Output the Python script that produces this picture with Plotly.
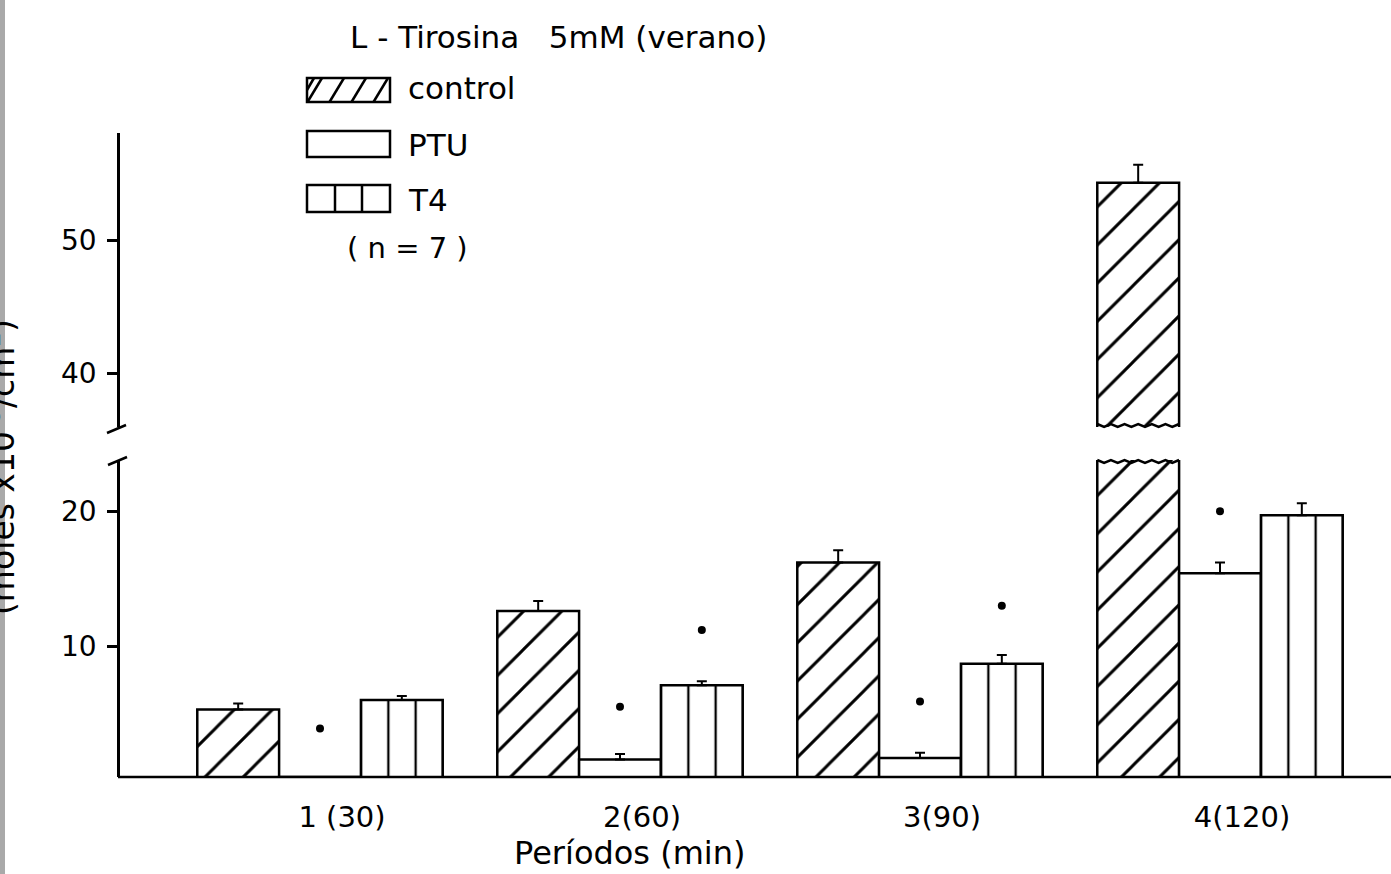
import plotly.graph_objects as go

# ---------------- data ----------------
periods = ["1 (30)", "2(60)", "3(90)", "4(120)"]
control = [5.3, 12.6, 16.2, 54.3]
control_err = [0.45, 0.75, 0.9, 1.35]
ptu = [0.3, 1.6, 1.7, 15.4]
ptu_err = [0.0, 0.4, 0.4, 0.8]
t4 = [6.0, 7.1, 8.7, 19.7]
t4_err = [0.3, 0.3, 0.65, 0.9]
ptu_sig = [3.9, 5.5, 5.9, 20.0]      # significance dots above PTU bars
t4_sig = [None, 11.2, 13.0, 23.9]    # significance dots above T4 bars
y_ticks_low = [10, 20]
y_ticks_high = [40, 50]

# ---------------- layout constants ----------------
W, H = 1391, 874
ML, MR, MT, MB = 102, 0, 133, 97
PW, PH = W - ML - MR, H - MT - MB
FONT = "DejaVu Sans"
BW = 3 / 11
OFFS = [-1.5 * BW, -0.5 * BW, 0.5 * BW]
XR = [-(320 - ML) / 300, -(320 - ML) / 300 + PW / 300]
AXPOS = (118 - ML) / PW
LOW_DOM = [0, (777 - 460) / PH]
HIGH_DOM = [(777 - 427) / PH, 1]
LOW_RANGE = [0.3, 0.3 + 317 / 13.49]
HIGH_RANGE = [40 - 54 / 13.3, 50 + 107 / 13.3]


def fx(px):
    return (px - ML) / PW


def fy(py):
    return (MT + PH - py) / PH


xs = list(range(len(periods)))
line = dict(color="black", width=2.5)
err_style = dict(type="data", symmetric=False, thickness=2, width=5, color="black")

hatch = dict(shape="/", size=27, solidity=0.11, fgcolor="black", fgopacity=1,
             bgcolor="white", fillmode="replace")
vlines = dict(shape="|", size=300 / 11, solidity=0.085, fgcolor="black", fgopacity=1,
              bgcolor="white", fillmode="replace")

fig = go.Figure()

fig.add_trace(go.Bar(
    x=xs, y=control, width=BW, offset=OFFS[0], name="control",
    marker=dict(color="white", line=line, pattern=hatch),
    error_y=dict(array=control_err, arrayminus=[0] * 4, **err_style),
    xaxis="x", yaxis="y"))
fig.add_trace(go.Bar(
    x=xs, y=ptu, width=BW, offset=OFFS[1], name="PTU",
    marker=dict(color="white", line=line),
    error_y=dict(array=ptu_err, arrayminus=[0] * 4, **err_style),
    xaxis="x", yaxis="y"))
fig.add_trace(go.Bar(
    x=xs, y=t4, width=BW, offset=OFFS[2], name="T4",
    marker=dict(color="white", line=line, pattern=vlines),
    error_y=dict(array=t4_err, arrayminus=[0] * 4, **err_style),
    xaxis="x", yaxis="y"))
# upper (broken) segment for control
fig.add_trace(go.Bar(
    x=xs, y=control, width=BW, offset=OFFS[0], name="control", showlegend=False,
    marker=dict(color="white", line=line, pattern=hatch),
    error_y=dict(array=control_err, arrayminus=[0] * 4, **err_style),
    xaxis="x", yaxis="y2"))

fig.add_trace(go.Scatter(
    x=[x + OFFS[1] + BW / 2 for x in xs], y=ptu_sig, mode="markers",
    marker=dict(color="black", size=8), cliponaxis=False, showlegend=False,
    xaxis="x", yaxis="y"))
fig.add_trace(go.Scatter(
    x=[x + OFFS[2] + BW / 2 for x in xs], y=t4_sig, mode="markers",
    marker=dict(color="black", size=8), cliponaxis=False, showlegend=False,
    xaxis="x", yaxis="y"))

shapes = []
# baseline
shapes.append(dict(type="line", xref="paper", yref="y domain", x0=AXPOS, x1=1, y0=0, y1=0,
                   line=dict(color="black", width=2.5)))
# axis break marks
shapes.append(dict(type="line", xref="paper", yref="y domain", xsizemode="pixel", ysizemode="pixel",
                   xanchor=AXPOS, yanchor=1, x0=-10, x1=9, y0=-5, y1=3,
                   line=dict(color="black", width=2.5)))
shapes.append(dict(type="line", xref="paper", yref="y2 domain", xsizemode="pixel", ysizemode="pixel",
                   xanchor=AXPOS, yanchor=0, x0=-11, x1=8, y0=-6, y1=2,
                   line=dict(color="black", width=2.5)))

# wavy break edges on the broken control bar
bi = control.index(max(control))
bx0 = bi + OFFS[0]
bx1 = bx0 + BW
n = 12
for yref, ybase, amp in (("y domain", 1.0, 3 / 317), ("y2 domain", 0.0, 3 / 294)):
    pts = []
    for k in range(n + 1):
        xx = bx0 + (bx1 - bx0) * k / n
        yy = ybase - (amp if k % 2 else 0) + (0 if yref == "y domain" else amp)
        pts.append(f"{xx},{yy}")
    shapes.append(dict(type="path", xref="x", yref=yref, path="M" + " L".join(pts),
                       line=dict(color="black", width=2.5)))


# custom legend glyphs
def rect(x0, y0, x1, y1):
    return dict(type="rect", xref="paper", yref="paper", x0=fx(x0), x1=fx(x1), y0=fy(y1), y1=fy(y0),
                line=dict(color="black", width=2.5), fillcolor="white")


def seg(x0, y0, x1, y1):
    return dict(type="line", xref="paper", yref="paper", x0=fx(x0), x1=fx(x1), y0=fy(y0), y1=fy(y1),
                line=dict(color="black", width=2.5))


shapes.append(rect(307, 78, 390, 102))
for bx in (307, 329, 351, 373):
    x_top = bx + 15
    xb, yb = bx, 102
    xt, yt = x_top, 78
    if xt > 390:
        frac = (390 - xb) / (xt - xb)
        xt, yt = 390, 102 - 24 * frac
    shapes.append(seg(xb + 0.5, yb, xt, yt))
shapes.append(seg(307, 90, 314, 78))
shapes.append(rect(307, 131, 390, 157))
shapes.append(rect(307, 185, 390, 212))
shapes.append(seg(335, 185, 335, 212))
shapes.append(seg(362, 185, 362, 212))
# scan edge
shapes.append(dict(type="rect", xref="paper", yref="paper", x0=fx(0), x1=fx(5), y0=fy(H), y1=fy(0),
                   fillcolor="#a9a9a9", line=dict(width=0), layer="above"))

annotations = [
    dict(text="L - Tirosina   5mM (verano)", x=fx(558), y=fy(37), font=dict(size=31)),
    dict(text="control", x=fx(406), y=fy(88), xanchor="left", font=dict(size=31)),
    dict(text="PTU", x=fx(406), y=fy(145), xanchor="left", font=dict(size=31)),
    dict(text="T4", x=fx(406), y=fy(200), xanchor="left", font=dict(size=31)),
    dict(text="( n = 7 )", x=fx(407), y=fy(248), font=dict(size=29)),
    dict(text="Períodos (min)", x=fx(630), y=fy(853), font=dict(size=32)),
    dict(text="(moles x10<sup>-9</sup>/cm<sup>2</sup>)", x=fx(1), y=fy(467), textangle=-90,
         font=dict(size=33)),
]
for a in annotations:
    a.update(xref="paper", yref="paper", showarrow=False)
    a.setdefault("xanchor", "center")
    a["yanchor"] = "middle"
    a["font"].update(family=FONT, color="black")

yaxis_common = dict(anchor="free", position=AXPOS, showline=True, linecolor="black", linewidth=2.5,
                    ticks="outside", ticklen=10, tickwidth=2.5, tickcolor="black", showgrid=False,
                    zeroline=False, tickfont=dict(family=FONT, size=28, color="black"),
                    ticklabelstandoff=5)

fig.update_layout(
    width=W, height=H,
    margin=dict(l=ML, r=MR, t=MT, b=MB, pad=0),
    paper_bgcolor="white", plot_bgcolor="white",
    showlegend=False,
    barmode="overlay",
    xaxis=dict(range=XR, tickvals=xs, ticktext=periods, showline=False, showgrid=False,
               zeroline=False, ticks="", ticklabelshift=22, ticklabelstandoff=20,
               tickfont=dict(family=FONT, size=29, color="black")),
    yaxis=dict(domain=LOW_DOM, range=LOW_RANGE, tickvals=y_ticks_low, **yaxis_common),
    yaxis2=dict(domain=HIGH_DOM, range=HIGH_RANGE, tickvals=y_ticks_high, **yaxis_common),
    shapes=shapes,
    annotations=annotations,
    font=dict(family=FONT, color="black"),
)

fig.write_html("out.html")
